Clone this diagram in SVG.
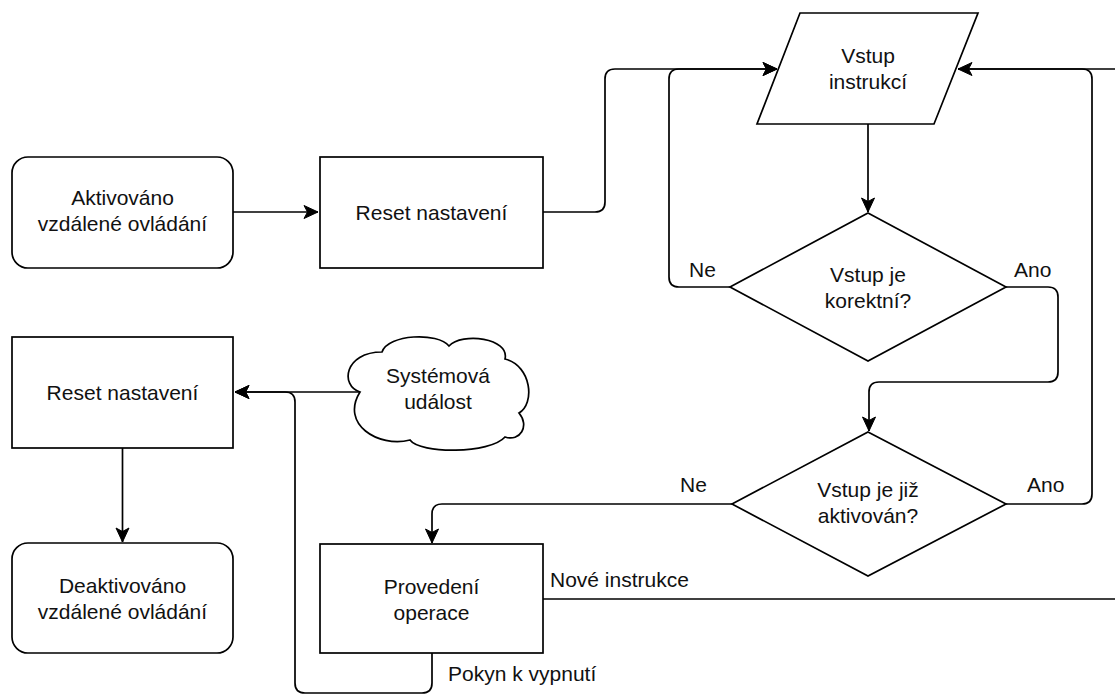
<svg xmlns="http://www.w3.org/2000/svg" width="1115" height="695" viewBox="0 0 1115 695">
  <style>
    .shape { fill: #ffffff; stroke: #000000; stroke-width: 1.7; }
    .edge { fill: none; stroke: #000000; stroke-width: 1.7; }
    .label { font-family: "Liberation Sans", Arial, sans-serif; font-size: 21px; fill: #111111; }
    .c { text-anchor: middle; }
  </style>
  <defs>
    <marker id="arrow" viewBox="-16 -8 16 16" refX="0" refY="0" markerWidth="16" markerHeight="16" markerUnits="userSpaceOnUse" orient="auto">
      <path d="M0,0 L-14,-6.5 L-10.5,0 L-14,6.5 Z" fill="#000000" stroke="#000000" stroke-width="1"/>
    </marker>
  </defs>

  <!-- connectors -->
  <g id="connectors">
    <path class="edge" d="M233,212 H318" marker-end="url(#arrow)"/>
    <path class="edge" d="M543,212 H595 Q605,212 605,202 V79 Q605,69 615,69 H777" marker-end="url(#arrow)"/>
    <path class="edge" d="M868,124 V212" marker-end="url(#arrow)"/>
    <path class="edge" d="M730,287 H679 Q669,287 669,277 V79 Q669,69 679,69 H777" marker-end="url(#arrow)"/>
    <path class="edge" d="M1006,287 H1048 Q1058,287 1058,297 V372 Q1058,382 1048,382 H879 Q869,382 869,392 V431" marker-end="url(#arrow)"/>
    <path class="edge" d="M1006,504 H1082 Q1092,504 1092,494 V79 Q1092,69 1082,69 H958" marker-end="url(#arrow)"/>
    <path class="edge" d="M1130,599 V69 H958" />
    <path class="edge" d="M732,504 H442 Q432,504 432,514 V543" marker-end="url(#arrow)"/>
    <path class="edge" d="M543,599 H1130"/>
    <path class="edge" d="M432,653 V683 Q432,693 422,693 H305 Q295,693 295,683 V402 Q295,392 285,392 H235" marker-end="url(#arrow)"/>
    <path class="edge" d="M360,392 H235" marker-end="url(#arrow)"/>
    <path class="edge" d="M122.5,448 V542" marker-end="url(#arrow)"/>

    <text class="label" x="689" y="277">Ne</text>
    <text class="label" x="1014" y="277">Ano</text>
    <text class="label" x="680" y="492">Ne</text>
    <text class="label" x="1027" y="492">Ano</text>
    <text class="label" x="550" y="587">Nové instrukce</text>
    <text class="label" x="448" y="681">Pokyn k vypnutí</text>
  </g>

  <g id="start">
    <rect class="shape" x="12" y="157" width="221" height="111" rx="16" ry="16"/>
    <text class="label c" x="122.5" y="205">Aktivováno</text>
    <text class="label c" x="122.5" y="231">vzdálené ovládání</text>
  </g>

  <g id="reset-start">
    <rect class="shape" x="320" y="157" width="223" height="111"/>
    <text class="label c" x="431.5" y="219.5">Reset nastavení</text>
  </g>

  <g id="input">
    <polygon class="shape" points="800,13 978,13 934,124 757,124"/>
    <text class="label c" x="868" y="63">Vstup</text>
    <text class="label c" x="868" y="89">instrukcí</text>
  </g>

  <g id="check-valid">
    <polygon class="shape" points="868,213 1006,287 868,361 730,287"/>
    <text class="label c" x="868" y="282">Vstup je</text>
    <text class="label c" x="868" y="308">korektní?</text>
  </g>

  <g id="check-active">
    <polygon class="shape" points="868,432 1006,504 868,576 732,504"/>
    <text class="label c" x="868" y="497">Vstup je již</text>
    <text class="label c" x="868" y="523">aktivován?</text>
  </g>

  <g id="execute">
    <rect class="shape" x="320" y="544" width="223" height="109"/>
    <text class="label c" x="431.5" y="594">Provedení</text>
    <text class="label c" x="431.5" y="620">operace</text>
  </g>

  <g id="system-event">
    <path class="shape" d="M360,392
      C340,386 344,352 382,352
      C388,334 438,332 449,346
      C462,332 510,338 505,359
      C532,366 535,404 519,413
      C530,426 520,442 505,437
      C490,454 420,454 410,440
      C378,448 340,424 360,392 Z"/>
    <text class="label c" x="438" y="383">Systémová</text>
    <text class="label c" x="438" y="409">událost</text>
  </g>

  <g id="reset-end">
    <rect class="shape" x="12" y="337" width="221" height="111"/>
    <text class="label c" x="122.5" y="400">Reset nastavení</text>
  </g>

  <g id="end">
    <rect class="shape" x="12" y="543" width="221" height="110" rx="16" ry="16"/>
    <text class="label c" x="122.5" y="593">Deaktivováno</text>
    <text class="label c" x="122.5" y="619">vzdálené ovládání</text>
  </g>
</svg>
